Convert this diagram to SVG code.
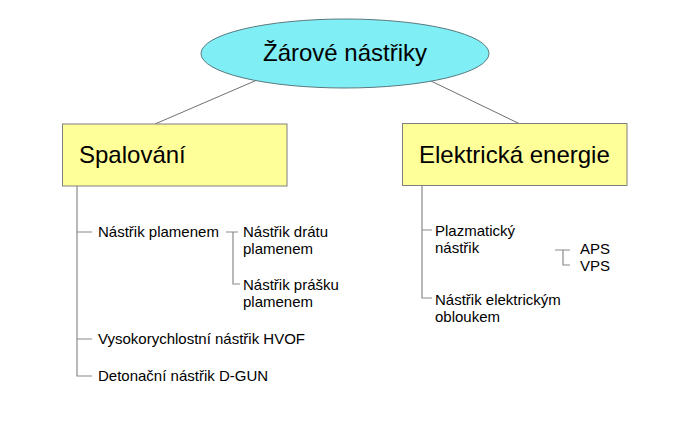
<svg xmlns="http://www.w3.org/2000/svg" width="698" height="427" viewBox="0 0 698 427">
<style>
text{font-family:"Liberation Sans",Arial,sans-serif;fill:#000}
.big{font-size:24px}
.sm{font-size:15px}
.c{stroke:#707070;stroke-width:1;fill:none}
.t{stroke:#8a8a8a;stroke-width:1.2;fill:none}
</style>
<rect width="698" height="427" fill="#fff"/>
<g id="connectors">
<line class="c" x1="257" y1="80" x2="155" y2="124"/>
<line class="c" x1="431" y1="81" x2="520" y2="124"/>
<path class="t" d="M77 186 V376 H92 M77 232 H92 M77 339 H92"/>
<path class="t" d="M226 232 H238 M233 232 V284 H240"/>
<path class="t" d="M422 185 V298 H432 M422 230 H432"/>
<path class="t" d="M555 250 H570 M563 250 V265 H570"/>
</g>
<g id="root">
<ellipse cx="345" cy="53.5" rx="144" ry="34.5" fill="#80eef5" stroke="#5a7a80" stroke-width="1"/>
<text class="big" x="345" y="61" text-anchor="middle">Žárové nástřiky</text>
</g>
<g id="spalovani">
<rect x="62.5" y="124" width="224.5" height="62" fill="#ffff99" stroke="#808080" stroke-width="1"/>
<text class="big" x="79" y="163">Spalování</text>
</g>
<g id="elektricka">
<rect x="402.5" y="123.5" width="224.5" height="62" fill="#ffff99" stroke="#808080" stroke-width="1"/>
<text class="big" x="419" y="163">Elektrická energie</text>
</g>
<g id="plamenem"><text class="sm" x="98" y="237">Nástřik plamenem</text></g>
<g id="dratu"><text class="sm" x="243" y="237">Nástřik drátu</text><text class="sm" x="243" y="254">plamenem</text></g>
<g id="prasku"><text class="sm" x="243" y="290">Nástřik prášku</text><text class="sm" x="243" y="307">plamenem</text></g>
<g id="hvof"><text class="sm" x="98" y="344">Vysokorychlostní nástřik HVOF</text></g>
<g id="dgun"><text class="sm" x="98" y="381">Detonační nástřik D-GUN</text></g>
<g id="plazma"><text class="sm" x="435" y="236">Plazmatický</text><text class="sm" x="435" y="253">nástřik</text></g>
<g id="aps"><text class="sm" x="580" y="254">APS</text></g>
<g id="vps"><text class="sm" x="580" y="271">VPS</text></g>
<g id="oblouk"><text class="sm" x="435" y="305">Nástřik elektrickým</text><text class="sm" x="435" y="322">obloukem</text></g>
</svg>
